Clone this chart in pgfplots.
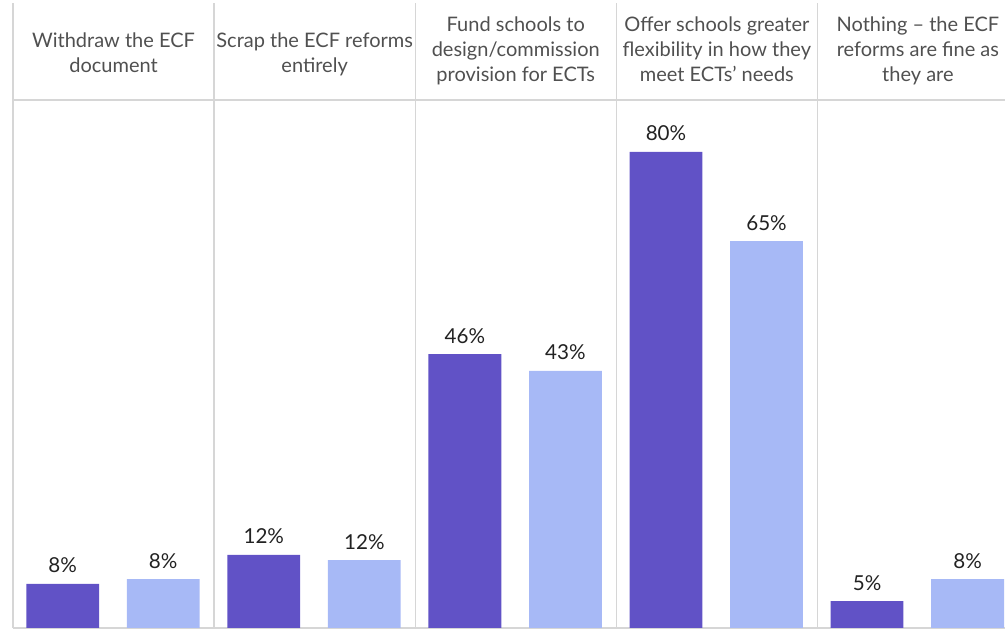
\documentclass[border=0pt]{standalone}
\usepackage{fontspec}
\setmainfont{Lato}
\usepackage{pgfplots}
\pgfplotsset{compat=1.18}
\definecolor{dark}{HTML}{6152C6}
\definecolor{light}{HTML}{A7B9F6}
\definecolor{sep}{HTML}{D6D6D6}
\definecolor{lbl}{HTML}{505050}
\definecolor{val}{HTML}{222222}

\begin{document}
\begin{tikzpicture}[x=1pt,y=1pt]
\useasboundingbox (0,0) rectangle (502.5,315);
\begin{axis}[
  at={(6.5pt,1pt)}, anchor=south west,
  scale only axis, width=496pt, height=312.5pt,
  xmin=-0.5, xmax=4.433, ymin=0, ymax=105,
  axis line style={draw=none},
  xtick={-0.5,0.5,1.5,2.5,3.5}, ytick={0,88.7},
  xticklabels={}, yticklabels={},
  major tick length=0pt,
  grid=major, grid style={sep, line width=0.6pt},
  point meta=explicit symbolic,
  nodes near coords,
  every node near coord/.style={font=\fontsize{10.3}{12}\selectfont, text=val, anchor=base, inner sep=0pt, yshift=5.5pt},
  clip=false,
]
% bars placed directly at their x positions (category i, left/right of centre)
\addplot[ybar, bar width=0.362, bar shift=0, fill=dark, draw=none]
  coordinates {(-0.253,7.4)[8\%] (0.747,12.3)[12\%] (1.747,46)[46\%] (2.747,80)[80\%] (3.747,4.5)[5\%]};
\addplot[ybar, bar width=0.362, bar shift=0, fill=light, draw=none]
  coordinates {(0.247,8.2)[8\%] (1.247,11.4)[12\%] (2.247,43.2)[43\%] (3.247,65)[65\%] (4.247,8.2)[8\%]};

\begin{scope}[every node/.style={font=\fontsize{10}{12.5}\selectfont, text=lbl, align=center, anchor=base}]
\node at (axis cs:0,93.4) {Withdraw the ECF\\document};
\node at (axis cs:1,93.4) {Scrap the ECF reforms\\entirely};
\node at (axis cs:2,91.8) {Fund schools to\\design/commission\\provision for ECTs};
\node at (axis cs:3,91.8) {Offer schools greater\\flexibility in how they\\meet ECTs’ needs};
\node at (axis cs:4,91.8) {Nothing – the ECF\\reforms are fine as\\they are};
\end{scope}
\end{axis}
\end{tikzpicture}
\end{document}
